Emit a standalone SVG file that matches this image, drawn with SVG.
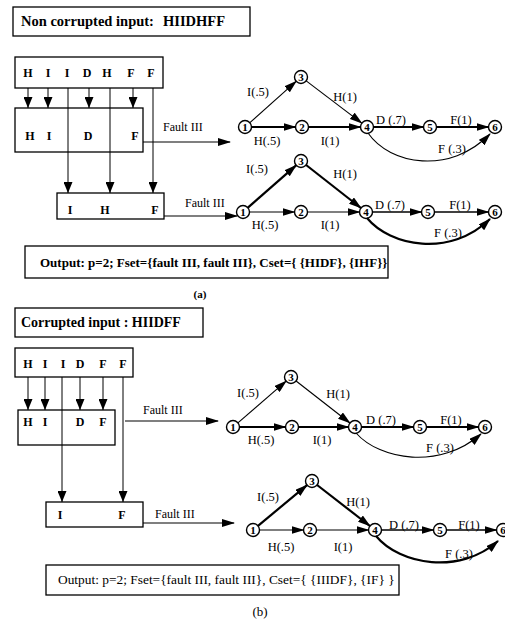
<svg xmlns="http://www.w3.org/2000/svg" width="505" height="620" viewBox="0 0 505 620">
<defs>
<marker id="ah" markerUnits="userSpaceOnUse" markerWidth="13" markerHeight="8" refX="12" refY="4" orient="auto"><path d="M0,0 L13,4 L0,8 z" fill="#000"/></marker>
<marker id="av" markerUnits="userSpaceOnUse" markerWidth="11" markerHeight="9" refX="11" refY="4.5" orient="auto"><path d="M0,0 L11,4.5 L0,9 z" fill="#000"/></marker>
<style>
.box{fill:#fff;stroke:#000;stroke-width:1.3}
.t{font-family:"Liberation Serif",serif;font-size:12px;fill:#000}
.g{font-size:12.5px}
.b{font-weight:bold}
.c{text-anchor:middle}
.v{fill:none;stroke:#000;stroke-width:1;marker-end:url(#av)}
.e{fill:none;stroke:#000;stroke-width:1.1;marker-end:url(#ah)}
.E{fill:none;stroke:#000;stroke-width:2.2;marker-end:url(#ah)}
.m{stroke-width:1.5}
.n circle{fill:#fff;stroke:#000;stroke-width:1.4}
.n text{font-family:"Liberation Serif",serif;font-size:11px;text-anchor:middle;font-weight:bold}
</style>
</defs>

<!-- Panel (a) -->
<g id="title-a"><rect class="box" x="13" y="7" width="237" height="29"/><text class="t b" x="21" y="26" style="font-size:14.5px">Non corrupted input:</text><text class="t b" x="163" y="26" style="font-size:14.5px">HIIDHFF</text></g>
<g id="input-a"><rect class="box" x="15" y="57" width="148" height="31"/>
<text class="t b c" x="28" y="77">H</text><text class="t b c" x="48" y="77">I</text><text class="t b c" x="67" y="77">I</text><text class="t b c" x="87" y="77">D</text><text class="t b c" x="107" y="77">H</text><text class="t b c" x="131" y="77">F</text><text class="t b c" x="151" y="77">F</text></g>
<g id="box2-a"><rect class="box" x="15" y="108" width="128" height="44"/>
<text class="t b c" x="30" y="140">H</text><text class="t b c" x="49" y="140">I</text><text class="t b c" x="88" y="140">D</text><text class="t b c" x="135" y="140">F</text></g>
<g id="box3-a"><rect class="box" x="57" y="193" width="107" height="26"/>
<text class="t b c" x="70" y="214">I</text><text class="t b c" x="105" y="214">H</text><text class="t b c" x="155" y="214">F</text></g>
<g id="output-a"><rect class="box" x="25" y="246" width="363" height="32"/><text class="t b" x="40" y="267" style="font-size:13px">Output: p=2; Fset={fault III, fault III}, Cset={ {HIDF}, {IHF}}</text></g>
<text class="t b c" x="200" y="298" style="font-size:11px">(a)</text>

<!-- Panel (b) -->
<g id="title-b"><rect class="box" x="15" y="308" width="188" height="29"/><text class="t b" x="21" y="327" style="font-size:14px">Corrupted input : HIIDFF</text></g>
<g id="input-b"><rect class="box" x="15" y="348" width="118" height="29"/>
<text class="t b c" x="28" y="368">H</text><text class="t b c" x="45" y="368">I</text><text class="t b c" x="63" y="368">I</text><text class="t b c" x="80" y="368">D</text><text class="t b c" x="103" y="368">F</text><text class="t b c" x="123" y="368">F</text></g>
<g id="box2-b"><rect class="box" x="18" y="410" width="97" height="35"/>
<text class="t b c" x="28" y="426">H</text><text class="t b c" x="45" y="426">I</text><text class="t b c" x="80" y="426">D</text><text class="t b c" x="103" y="426">F</text></g>
<g id="box3-b"><rect class="box" x="46" y="502" width="97" height="25"/>
<text class="t b c" x="60" y="519">I</text><text class="t b c" x="122" y="519">F</text></g>
<g id="output-b"><rect class="box" x="46" y="565" width="353" height="30"/><text class="t" x="58" y="584" style="font-size:13.4px">Output: p=2; Fset={fault III, fault III}, Cset={ {IIIDF}, {IF} }</text></g>
<text class="t c" x="260" y="616" style="font-size:13px">(b)</text>

<!-- Graph nodes -->
<g id="a1-n1" class="n"><circle cx="245" cy="127" r="6.5"/><text x="245" y="131">1</text></g>
<g id="a1-n2" class="n"><circle cx="302" cy="127" r="6.5"/><text x="302" y="131">2</text></g>
<g id="a1-n3" class="n"><circle cx="301" cy="77" r="6.5"/><text x="301" y="81">3</text></g>
<g id="a1-n4" class="n"><circle cx="367" cy="127" r="6.5"/><text x="367" y="131">4</text></g>
<g id="a1-n5" class="n"><circle cx="430" cy="127" r="6.5"/><text x="430" y="131">5</text></g>
<g id="a1-n6" class="n"><circle cx="495" cy="127" r="6.5"/><text x="495" y="131">6</text></g>

<g id="a2-n1" class="n"><circle cx="243" cy="212" r="6.5"/><text x="243" y="216">1</text></g>
<g id="a2-n2" class="n"><circle cx="301" cy="212" r="6.5"/><text x="301" y="216">2</text></g>
<g id="a2-n3" class="n"><circle cx="301" cy="161" r="6.5"/><text x="301" y="165">3</text></g>
<g id="a2-n4" class="n"><circle cx="366" cy="212" r="6.5"/><text x="366" y="216">4</text></g>
<g id="a2-n5" class="n"><circle cx="428" cy="212" r="6.5"/><text x="428" y="216">5</text></g>
<g id="a2-n6" class="n"><circle cx="495" cy="212" r="6.5"/><text x="495" y="216">6</text></g>

<g id="b1-n1" class="n"><circle cx="233" cy="427" r="6.5"/><text x="233" y="431">1</text></g>
<g id="b1-n2" class="n"><circle cx="292" cy="427" r="6.5"/><text x="292" y="431">2</text></g>
<g id="b1-n3" class="n"><circle cx="291" cy="377" r="6.5"/><text x="291" y="381">3</text></g>
<g id="b1-n4" class="n"><circle cx="355" cy="427" r="6.5"/><text x="355" y="431">4</text></g>
<g id="b1-n5" class="n"><circle cx="420" cy="427" r="6.5"/><text x="420" y="431">5</text></g>
<g id="b1-n6" class="n"><circle cx="485" cy="427" r="6.5"/><text x="485" y="431">6</text></g>

<g id="b2-n1" class="n"><circle cx="253" cy="530" r="6.5"/><text x="253" y="534">1</text></g>
<g id="b2-n2" class="n"><circle cx="310" cy="530" r="6.5"/><text x="310" y="534">2</text></g>
<g id="b2-n3" class="n"><circle cx="312" cy="481" r="6.5"/><text x="312" y="485">3</text></g>
<g id="b2-n4" class="n"><circle cx="375" cy="530" r="6.5"/><text x="375" y="534">4</text></g>
<g id="b2-n5" class="n"><circle cx="440" cy="530" r="6.5"/><text x="440" y="534">5</text></g>
<g id="b2-n6" class="n"><circle cx="503" cy="530" r="6.5"/><text x="503" y="534">6</text></g>

<!-- Connectors -->
<g id="connectors">
<path class="v" d="M28,88 V108"/><path class="v" d="M48,88 V108"/><path class="v" d="M89,88 V108"/><path class="v" d="M133,88 V108"/>
<path class="v" d="M68,88 V193"/><path class="v" d="M110,88 V193"/><path class="v" d="M153,88 V193"/>
<path class="e" d="M143,142 H230"/><path class="e" d="M164,216 H237"/>
<path class="v" d="M28,377 V410"/><path class="v" d="M45,377 V410"/><path class="v" d="M80,377 V410"/><path class="v" d="M103,377 V410"/>
<path class="v" d="M62,377 V502"/><path class="v" d="M123,377 V502"/>
<path class="e" d="M125,421 H218"/><path class="e" d="M143,523 H234"/>

<path class="e" d="M249.9,122.7 L296.1,81.3"/>
<path class="e" d="M306.2,80.9 L361.8,123.1"/>
<path class="E" d="M251.5,127 H295.5"/>
<path class="E" d="M308.5,127 H360.5"/>
<path class="E" d="M373.5,127 H423.5"/>
<path class="E" d="M436.5,127 H488.5"/>
<path class="e" d="M368,133 C390,165 450,175 490,134"/>

<path class="E" d="M247.9,207.7 L296.1,165.3"/>
<path class="E" d="M306.1,165 L360.9,208"/>
<path class="e" d="M249.5,212 H294.5"/>
<path class="e" d="M307.5,212 H359.5"/>
<path class="e m" d="M372.5,212 H421.5"/>
<path class="e m" d="M434.5,212 H488.5"/>
<path class="E" d="M367,218 C390,246 450,258 490,219"/>

<path class="e" d="M237.9,422.8 L286.1,381.2"/>
<path class="e" d="M296.1,381 L349.9,423"/>
<path class="E" d="M239.5,427 H285.5"/>
<path class="E" d="M298.5,427 H348.5"/>
<path class="E" d="M361.5,427 H413.5"/>
<path class="E" d="M426.5,427 H478.5"/>
<path class="e" d="M356,433 C380,460 440,470 481,434"/>

<path class="E" d="M258,525.8 L307,485.2"/>
<path class="E" d="M317.1,485 L369.9,526"/>
<path class="e" d="M259.5,530 H303.5"/>
<path class="e" d="M316.5,530 H368.5"/>
<path class="e m" d="M381.5,530 H433.5"/>
<path class="e m" d="M446.5,530 H496.5"/>
<path class="E" d="M376,536 C400,565 460,575 498,541"/>
</g>

<g id="labels">
<text class="t" x="163" y="131">Fault III</text>
<text class="t" x="185" y="207">Fault III</text>
<text class="t" x="143" y="414">Fault III</text>
<text class="t" x="155" y="518">Fault III</text>

<text class="t g c" x="258" y="96">I(.5)</text><text class="t g c" x="345" y="101">H(1)</text>
<text class="t g c" x="267" y="145">H(.5)</text><text class="t g c" x="330" y="145">I(1)</text>
<text class="t g c" x="391" y="124">D (.7)</text><text class="t g c" x="461" y="124">F(1)</text>
<text class="t g c" x="452" y="153">F (.3)</text>

<text class="t g c" x="257" y="173">I(.5)</text><text class="t g c" x="345" y="178">H(1)</text>
<text class="t g c" x="265" y="229">H(.5)</text><text class="t g c" x="330" y="229">I(1)</text>
<text class="t g c" x="390" y="209">D (.7)</text><text class="t g c" x="460" y="209">F(1)</text>
<text class="t g c" x="448" y="237">F (.3)</text>

<text class="t g c" x="248" y="397">I(.5)</text><text class="t g c" x="338" y="398">H(1)</text>
<text class="t g c" x="261" y="444">H(.5)</text><text class="t g c" x="322" y="444">I(1)</text>
<text class="t g c" x="381" y="424">D (.7)</text><text class="t g c" x="451" y="424">F(1)</text>
<text class="t g c" x="440" y="452">F (.3)</text>

<text class="t g c" x="268" y="501">I(.5)</text><text class="t g c" x="358" y="506">H(1)</text>
<text class="t g c" x="281" y="551">H(.5)</text><text class="t g c" x="343" y="551">I(1)</text>
<text class="t g c" x="404" y="529">D (.7)</text><text class="t g c" x="469" y="529">F(1)</text>
<text class="t g c" x="459" y="558">F (.3)</text>
</g>
</svg>
